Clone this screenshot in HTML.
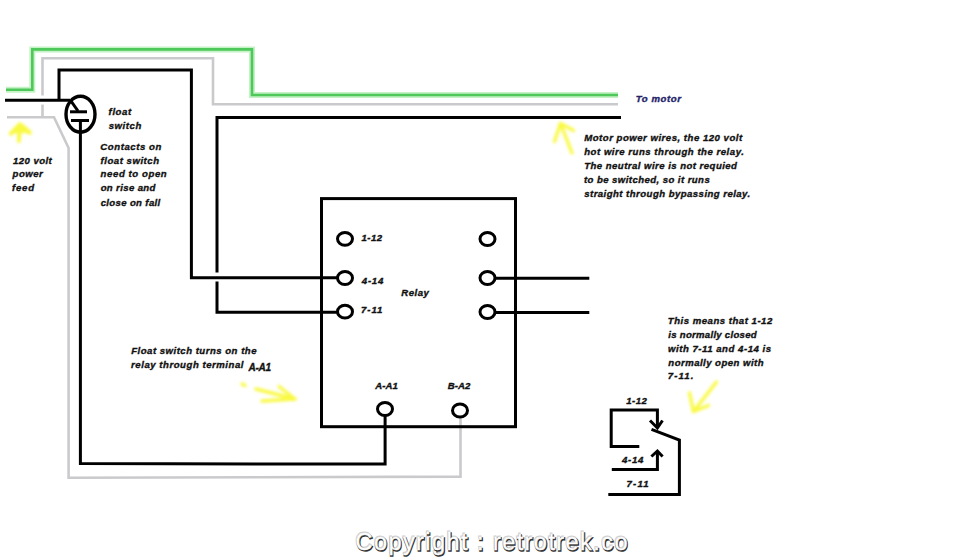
<!DOCTYPE html>
<html><head><meta charset="utf-8">
<style>
html,body{margin:0;padding:0;background:#fff;width:980px;height:560px;overflow:hidden}
svg{display:block}
text{font-family:"Liberation Sans",sans-serif;font-weight:bold;font-style:italic;fill:#111;stroke:#111;stroke-width:0.35px}
.cp text{font-style:normal;font-weight:normal;font-size:23.5px}
</style></head><body>
<svg width="980" height="560" viewBox="0 0 980 560">
<defs>
<filter id="bl" x="-50%" y="-50%" width="200%" height="200%"><feGaussianBlur stdDeviation="1.4"/></filter>
<filter id="sh" x="-10%" y="-30%" width="120%" height="160%"><feGaussianBlur stdDeviation="0.6"/></filter>
</defs>
<g fill="none" stroke-linejoin="miter" stroke-linecap="butt">
<!-- green -->
<polyline points="6,89.8 32.3,89.8 32.3,49.4 252,49.4 252,95 618,95" stroke="#c4f2c4" stroke-width="6"/>
<polyline points="6,89.8 32.3,89.8 32.3,49.4 252,49.4 252,95 618,95" stroke="#4ec85a" stroke-width="2.6"/>
<!-- gray -->
<g stroke="#cacacd" stroke-width="2.6">
<polyline points="42.5,95.5 42.5,58.2 213,58.2 213,104.2 618,104.2"/>
<polyline points="42.5,104.6 42.5,117.3"/>
<polyline points="7,117.3 54,117.3 68.6,148 68.6,477.8 460.5,476.6 460.5,418"/>
</g>
<!-- black -->
<g stroke="#000" stroke-width="3">
<polyline points="5,100.3 70,100.3"/>
<polyline points="59,100.3 59,69.9 191.4,69.9 191.4,277.7 337,277.7"/>
<polyline points="621,117.4 217,117.4 217,272.5"/>
<polyline points="217,281.5 217,312.2 337,312.2"/>
<ellipse cx="80.5" cy="114.2" rx="14.5" ry="18" stroke-width="3.4"/>
<polyline points="70.5,100.3 78,111"/>
<polyline points="70,111.8 87,111.8"/>
<polyline points="71,120.5 89,120.5"/>
<polyline points="80.4,120.5 80.4,463.6 385.1,464.1 385.1,416"/>
<rect x="321.5" y="198.6" width="194" height="228.1"/>
<ellipse cx="345" cy="238.8" rx="7.5" ry="6.4"/>
<ellipse cx="345" cy="278" rx="7.5" ry="6.4"/>
<ellipse cx="345" cy="311.7" rx="7.5" ry="6.4"/>
<ellipse cx="487.5" cy="239" rx="7.5" ry="6.4"/>
<ellipse cx="487.5" cy="278" rx="7.5" ry="6.4"/>
<ellipse cx="487.5" cy="312" rx="7.5" ry="6.4"/>
<ellipse cx="385" cy="409" rx="7.5" ry="6.4"/>
<polyline points="495,278.2 589.3,278.2"/>
<polyline points="495,312.4 589.3,312.4"/>
<polyline points="639.3,446.6 611.2,446.6 611.2,410 657.4,410 657.4,427"/>
<polyline points="650,420.5 657.4,428 662.5,420.5"/>
<polyline points="651.5,429.3 679.4,440 679.4,494.6 608.3,494.6"/>
<polyline points="611.8,469.5 657.4,469.5 657.4,451.3"/>
<polyline points="651.4,456.5 657.4,451 662.6,456.5"/>
</g>
<ellipse cx="460" cy="410.5" rx="7.5" ry="6.4" stroke="#000" stroke-width="3"/>
</g>
<!-- yellow arrows -->
<g stroke="#f8f820" stroke-width="3.4" fill="none" filter="url(#bl)" stroke-linecap="round" stroke-linejoin="round" opacity="0.85">
<polyline points="11,133.5 20,124.5 29.5,132.5" stroke-width="4.5"/><polygon points="13,132 20,125 27,131.5 20,131" fill="#f8f820"/><polyline points="20,126 18.8,141" stroke-width="4"/>
<polyline points="554.5,141.5 560.5,123.5 573.5,130.5"/><polyline points="560.5,123.5 572,153"/>
<polyline points="256,389 295,399"/><polyline points="279,386.5 295,399 262,401"/><polyline points="242,384 245,385.5"/>
<polyline points="716.5,382 693.4,411.5"/><polyline points="689.5,393 693.4,411.5 708.5,405.5"/>
</g>
<!-- texts -->
<text x="13.03" y="163.7" textLength="38.68" lengthAdjust="spacing" font-size="9.6">120 volt</text>
<text x="12.57" y="177.4" textLength="30.12" lengthAdjust="spacing" font-size="9.6">power</text>
<text x="12.02" y="191.2" textLength="22.08" lengthAdjust="spacing" font-size="9.6">feed</text>
<text x="108.62" y="114.5" textLength="22.52" lengthAdjust="spacing" font-size="9.6">float</text>
<text x="108.63" y="128.7" textLength="32.77" lengthAdjust="spacing" font-size="9.6">switch</text>
<text x="100.35" y="149.8" textLength="60.93" lengthAdjust="spacing" font-size="9.6">Contacts on</text>
<text x="100.62" y="163.7" textLength="58.39" lengthAdjust="spacing" font-size="9.6">float switch</text>
<text x="100.62" y="177.3" textLength="66.08" lengthAdjust="spacing" font-size="9.6">need to open</text>
<text x="100.63" y="191.2" textLength="54.8" lengthAdjust="spacing" font-size="9.6">on rise and</text>
<text x="100.63" y="205.5" textLength="59.62" lengthAdjust="spacing" font-size="9.6">close on fall</text>
<text x="635.68" y="102.2" textLength="45.24" lengthAdjust="spacing" font-size="9.6" style="fill:#24246a;stroke:#24246a">To motor</text>
<text x="584.22" y="140.9" textLength="157.96" lengthAdjust="spacing" font-size="9.6">Motor power wires, the 120 volt</text>
<text x="584.22" y="155" textLength="159.6" lengthAdjust="spacing" font-size="9.6">hot wire runs through the relay.</text>
<text x="584.18" y="168.8" textLength="152.8" lengthAdjust="spacing" font-size="9.6">The neutral wire is not requied</text>
<text x="583.95" y="182.8" textLength="125.77" lengthAdjust="spacing" font-size="9.6">to be switched, so it runs</text>
<text x="584.23" y="196.5" textLength="165.98" lengthAdjust="spacing" font-size="9.6">straight through bypassing relay.</text>
<text x="361.53" y="240.6" textLength="20.52" lengthAdjust="spacing" font-size="9.6">1-12</text>
<text x="361.8" y="283.5" textLength="21.43" lengthAdjust="spacing" font-size="9.6">4-14</text>
<text x="360.93" y="313.1" textLength="21.45" lengthAdjust="spacing" font-size="9.6">7-11</text>
<text x="401.33" y="295.8" textLength="27.45" lengthAdjust="spacing" font-size="9.6">Relay</text>
<text x="375.25" y="389" textLength="22.54" lengthAdjust="spacing" font-size="9.6">A-A1</text>
<text x="447.75" y="389" textLength="22.7" lengthAdjust="spacing" font-size="9.6">B-A2</text>
<text x="131.22" y="353.7" textLength="125.29" lengthAdjust="spacing" font-size="9.6">Float switch turns on the</text>
<text x="131.12" y="367.6" textLength="112.35" lengthAdjust="spacing" font-size="9.6">relay through terminal</text>
<text x="248.54" y="370.6" textLength="22.43" lengthAdjust="spacing" font-size="10">A-A1</text>
<text x="667.77" y="323.6" textLength="104.5" lengthAdjust="spacing" font-size="9.6">This means that 1-12</text>
<text x="668.34" y="337.6" textLength="88.27" lengthAdjust="spacing" font-size="9.6">is normally closed</text>
<text x="668.04" y="351.9" textLength="103.04" lengthAdjust="spacing" font-size="9.6">with 7-11 and 4-14 is</text>
<text x="668.33" y="365.7" textLength="95.23" lengthAdjust="spacing" font-size="9.6">normally open with</text>
<text x="667.68" y="379.3" textLength="25.82" lengthAdjust="spacing" font-size="9.6">7-11.</text>
<text x="626.23" y="403.8" textLength="20.72" lengthAdjust="spacing" font-size="9.6">1-12</text>
<text x="622.0" y="463" textLength="21.43" lengthAdjust="spacing" font-size="9.6">4-14</text>
<text x="626.61" y="486.9" textLength="21.99" lengthAdjust="spacing" font-size="9.6">7-11</text>
<g class="cp">
<text x="355.5" y="549.6" textLength="272" lengthAdjust="spacing" style="fill:#ccc;stroke:#d0d0d0;stroke-width:1px" transform="translate(-0.5,-0.5)">Copyright : retrotrek.co</text>
<text x="355.5" y="549.6" textLength="272" lengthAdjust="spacing" style="fill:#333;stroke:#333;stroke-width:1.5px" transform="translate(0.7,1)">Copyright : retrotrek.co</text>
<text x="355.5" y="549.6" textLength="272" lengthAdjust="spacing" style="fill:#fff;stroke:#fff;stroke-width:0.4px">Copyright : retrotrek.co</text>
</g>
</svg>
</body></html>
